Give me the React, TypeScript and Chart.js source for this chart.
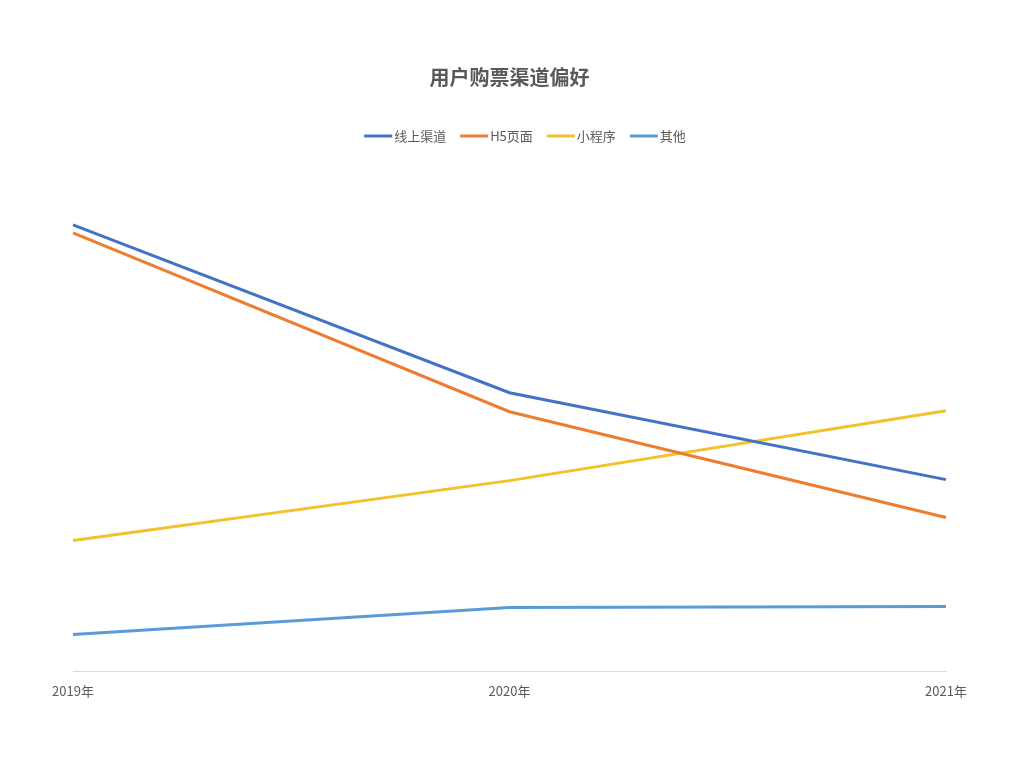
import React, { useEffect, useRef } from "react";
import { Chart, registerables } from "chart.js";

Chart.register(...registerables);

const years = ["2019年", "2020年", "2021年"];
const seriesNames = ["线上渠道", "H5页面", "小程序", "其他"];
const onlineChannel = [44.7, 27.9, 19.2];
const h5Page = [43.9, 26.0, 15.4];
const miniProgram = [13.1, 19.1, 26.1];
const others = [3.7, 6.4, 6.5];
const seriesColors = ["#4472C4", "#ED7D31", "#F2C12E", "#5B9BD5"];

const FONT = "'Noto Sans CJK SC', 'Noto Sans', sans-serif";
const TEXT = "#595959";

const lineLegend = {
  id: "lineLegend",
  afterDraw(chart: any) {
    const ctx = chart.ctx;
    const ds = chart.data.datasets;
    const lineW = 28;
    const gapText = 2;
    const gapItem = 14;
    const y = 136;
    ctx.save();
    ctx.font = `13px ${FONT}`;
    const widths = ds.map((d: any) => ctx.measureText(d.label).width);
    const total =
      widths.reduce((a: number, w: number) => a + lineW + gapText + w, 0) + gapItem * (ds.length - 1);
    let x = chart.width / 2 + 13 - total / 2;
    ds.forEach((d: any, i: number) => {
      ctx.strokeStyle = d.borderColor;
      ctx.lineWidth = 3;
      ctx.beginPath();
      ctx.moveTo(x, y);
      ctx.lineTo(x + lineW, y);
      ctx.stroke();
      ctx.fillStyle = TEXT;
      ctx.textBaseline = "middle";
      ctx.textAlign = "left";
      ctx.fillText(d.label, x + lineW + gapText, y);
      x += lineW + gapText + widths[i] + gapItem;
    });
    ctx.restore();
  },
};

export default function App() {
  const ref = useRef<HTMLCanvasElement | null>(null);
  useEffect(() => {
    if (!ref.current) return;
    const values = [onlineChannel, h5Page, miniProgram, others];
    const chart = new Chart(ref.current, {
      type: "line",
      data: {
        labels: years,
        datasets: seriesNames.map((name, i) => ({
          label: name,
          data: values[i],
          borderColor: seriesColors[i],
          backgroundColor: seriesColors[i],
          borderWidth: 3,
          pointRadius: 0,
          tension: 0,
        })),
      },
      options: {
        animation: false,
        responsive: false,
        layout: { padding: { left: 73, right: 78, top: 0, bottom: 57 } },
        plugins: {
          title: {
            display: true,
            text: "用户购票渠道偏好",
            color: TEXT,
            font: { family: FONT, size: 20, weight: "bold" },
            padding: { top: 65, bottom: 63 },
          },
          legend: { display: false },
          tooltip: { enabled: false },
        },
        scales: {
          x: {
            offset: false,
            grid: { display: false, drawTicks: false },
            border: { display: true, color: "#D9D9D9", width: 1 },
            ticks: {
              color: TEXT,
              font: { family: FONT, size: 13 },
              padding: 12,
              maxRotation: 0,
            },
          },
          y: {
            display: false,
            min: 0,
            max: 52,
          },
        },
      },
      plugins: [lineLegend],
    });
    return () => chart.destroy();
  }, []);
  return (
    <div style={{ position: "fixed", left: 0, top: 0, width: 1024, height: 768, background: "#fff" }}>
      <canvas ref={ref} width={1024} height={768} style={{ width: 1024, height: 768 }} />
    </div>
  );
}
